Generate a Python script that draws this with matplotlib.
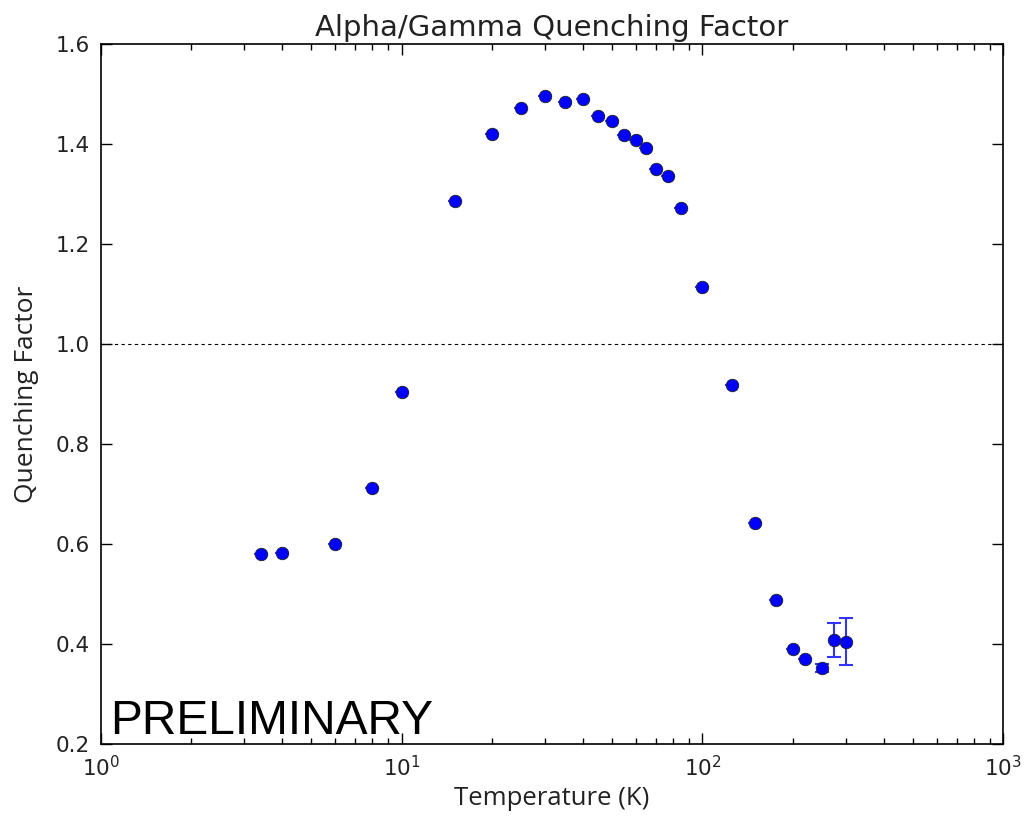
import matplotlib
matplotlib.use("Agg")
import matplotlib.pyplot as plt

# temperature (K) and alpha/gamma quenching factor
temperature = [3.4, 4, 6, 8, 10, 15, 20, 25, 30, 35, 40, 45, 50, 55, 60, 65,
               70, 77, 85, 100, 125, 150, 175, 200, 220, 250, 273, 300]
quenching = [0.580, 0.583, 0.600, 0.712, 0.904, 1.286, 1.420, 1.472, 1.496,
             1.484, 1.490, 1.456, 1.446, 1.418, 1.408, 1.392, 1.350, 1.336,
             1.272, 1.114, 0.918, 0.642, 0.489, 0.390, 0.369, 0.352, 0.408, 0.405]
quench_err = [0, 0, 0, 0, 0, 0, 0, 0, 0, 0, 0, 0, 0, 0, 0, 0,
              0, 0, 0, 0, 0, 0, 0, 0, 0, 0.008, 0.035, 0.047]

fig = plt.figure(figsize=(10.28, 8.18), dpi=100)
ax = fig.add_axes([0.098, 0.0905, 0.878, 0.8555])

ax.errorbar(temperature, quenching, yerr=quench_err, fmt='none',
            ecolor='#3333ff', elinewidth=1.5, capsize=5, capthick=1.5)
ax.plot(temperature, quenching, 'o', color='#0000ff', markersize=9,
        markeredgecolor='#222222', markeredgewidth=0.6)
ax.axhline(1.0, color='black', linestyle='--', linewidth=0.8, dashes=(3, 3))

ax.set_xscale('log')
ax.set_xlim(1, 1000)
ax.set_ylim(0.2, 1.6)
ax.set_yticks([0.2, 0.4, 0.6, 0.8, 1.0, 1.2, 1.4, 1.6])

ax.tick_params(which='both', direction='in', top=True, right=True,
               labelsize=15.5, labelcolor='#222222')
ax.tick_params(which='major', length=8, width=1)
ax.tick_params(which='minor', length=4, width=1)
ax.tick_params(axis='x', pad=8)
ax.tick_params(axis='y', pad=8)
for s in ax.spines.values():
    s.set_linewidth(1.2)

ax.set_title('Alpha/Gamma Quenching Factor', fontsize=21, color='#222222')
ax.set_xlabel('Temperature (K)', fontsize=18.5, family='Open Sans', color='#222222')
ax.set_ylabel('Quenching Factor', fontsize=19, family='Open Sans', color='#222222',
              labelpad=12)

ax.text(0.01, 0.0, 'PRELIMINARY', transform=ax.transAxes, fontsize=34.5,
        family='Liberation Sans', va='bottom', ha='left')

fig.savefig('out.png', dpi=100)
